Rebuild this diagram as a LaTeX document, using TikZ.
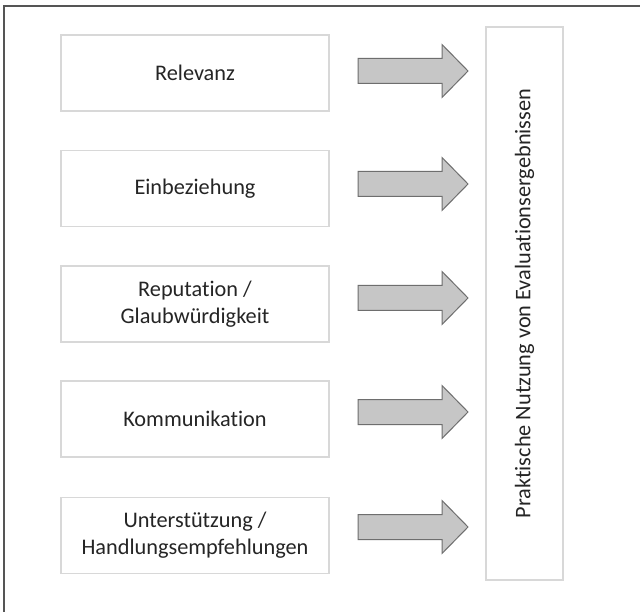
\documentclass[tikz,border=0pt]{standalone}
\usepackage{fontspec}
\setmainfont[RawFeature={-liga;-dlig;-clig}]{Carlito}
\definecolor{boxline}{HTML}{D8D8D8}
\definecolor{txt}{HTML}{252525}
\definecolor{arrfill}{HTML}{C6C6C6}
\definecolor{arrline}{HTML}{6E6E6E}
\definecolor{frameline}{HTML}{555555}
\begin{document}
\begin{tikzpicture}[x=1pt,y=-1pt,
  factor/.style={draw=boxline,line width=1.2pt,fill=white,minimum width=268pt,minimum height=76pt,
    align=center,text=txt,font=\fontsize{22.3}{27}\selectfont,inner sep=0pt},
  target/.style={draw=boxline,line width=1.2pt,fill=white,minimum width=77pt,minimum height=553pt,
    inner sep=0pt},
  bigarrow/.pic={\draw[draw=arrline,fill=arrfill,line width=1pt,line join=miter]
     (0,-12.5) -- (84,-12.5) -- (84,-26.5) -- (110,0) -- (84,26.5) -- (84,12.5) -- (0,12.5) -- cycle;}]
\useasboundingbox (0,0) rectangle (640,612);
\fill[white] (0,0) rectangle (640,612);
\draw[frameline,line width=1.6pt] (4,612) -- (4,6) -- (640,6);
\node[factor] (f1) at (195,73) {Relevanz};
\node[factor] (f2) at (195,188.5) {Einbeziehung};
\node[factor] (f3) at (195,304) {Reputation /\\Glaubwürdigkeit};
\node[factor] (f4) at (195,419) {Kommunikation};
\node[factor] (f5) at (195,535.5) {Unterstützung /\\Handlungsempfehlungen};
\node[target] (t) at (524.5,303.5) {};
\node[rotate=90,text=txt,font=\fontsize{22.3}{27}\selectfont] (tl) at (t.center) {Praktische Nutzung von Evaluationsergebnissen};
\pic at (358,71) {bigarrow};
\pic at (358,184) {bigarrow};
\pic at (358,298) {bigarrow};
\pic at (358,412) {bigarrow};
\pic at (358,527) {bigarrow};
\end{tikzpicture}
\end{document}
